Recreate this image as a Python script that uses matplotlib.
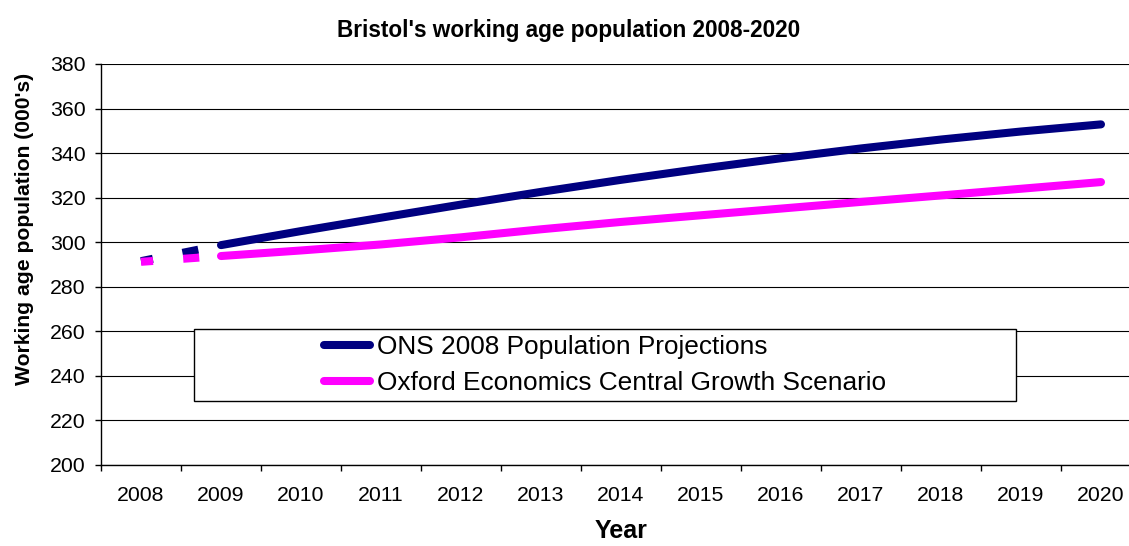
import matplotlib.pyplot as plt
from matplotlib.lines import Line2D
from matplotlib.patches import Rectangle

plt.rcParams['font.family'] = ['Liberation Sans', 'DejaVu Sans']

# Working age population (000's)
years = ['2008', '2009', '2010', '2011', '2012', '2013', '2014',
         '2015', '2016', '2017', '2018', '2019', '2020']
ons_2008 = [291.5, 298.7, 305.0, 311.0, 316.9, 322.6, 328.0,
            333.0, 337.7, 342.1, 346.1, 349.7, 352.9]
oxford_central = [291.2, 293.8, 296.3, 299.0, 302.2, 305.8, 309.1,
                  312.1, 315.1, 318.1, 321.0, 324.0, 327.0]
series_names = ['ONS 2008 Population Projections',
                'Oxford Economics Central Growth Scenario']
series_colors = ['#000080', '#FF00FF']

W, H = 1129, 546
fig = plt.figure(figsize=(W / 100, H / 100), dpi=100)
# plot area runs a little past the right edge of the image
ax = fig.add_axes([101 / W, (H - 465) / H, 1040 / W, 401 / H])

x = list(range(len(years)))
lw = 5.8
for vals, col in zip([ons_2008, oxford_central], series_colors):
    # first year is an estimate -> dashed
    ax.plot(x[:2], vals[:2], color=col, lw=lw, linestyle=(0.5, (2, 3.75)),
            dash_capstyle='butt', zorder=3)
    ax.plot(x[1:], vals[1:], color=col, lw=lw, solid_capstyle='round',
            solid_joinstyle='round', zorder=3)

ax.set_xlim(-0.5, len(years) - 0.5)
ax.set_ylim(200, 380)
ax.set_yticks(range(200, 381, 20))
ax.set_xticks([i - 0.5 for i in range(len(years) + 1)])
ax.set_xticklabels([])
ax.set_xticks(x, minor=True)
ax.set_xticklabels(years, minor=True)
ax.tick_params(axis='x', which='major', direction='out', length=4.3, width=1, color='black')
ax.tick_params(axis='x', which='minor', length=0, pad=15, labelsize=15.3)
ax.tick_params(axis='y', direction='out', length=4.3, width=1, pad=7, labelsize=15.3)

ax.grid(axis='y', color='black', lw=0.8)
ax.set_axisbelow(True)
for side in ['top', 'right']:
    ax.spines[side].set_visible(False)
ax.spines['left'].set_linewidth(1)
ax.spines['bottom'].set_linewidth(1)

ax.set_xlabel('Year', fontsize=18, fontweight='bold', va='center')
ax.xaxis.set_label_coords(0.5, (465 - 531) / 401)
ax.set_ylabel("Working age population (000's)", fontsize=15.2, fontweight='bold',
              va='center', ha='center')
ax.yaxis.set_label_coords((24 - 101) / 1040, (465 - 229) / 401)

fig.text(568.5 / W, 1 - 31 / H, "Bristol's working age population 2008-2020",
         ha='center', va='center', fontsize=16.3, fontweight='bold')

# legend box sits over the gridlines
box = Rectangle((194 / W, (H - 401) / H), 822 / W, 72 / H, transform=fig.transFigure,
                facecolor='white', edgecolor='black', lw=1, zorder=4)
ax.add_artist(box)
handles = [Line2D([], [], color=c, lw=lw, solid_capstyle='round') for c in series_colors]
leg = ax.legend(handles, series_names, loc='center', bbox_to_anchor=(605 / W, 1 - 365 / H),
                bbox_transform=fig.transFigure, frameon=False, fontsize=18.9,
                handlelength=1.75, handletextpad=0.25, labelspacing=0.45)
leg.set_zorder(5)

fig.savefig('out.png', dpi=100)
